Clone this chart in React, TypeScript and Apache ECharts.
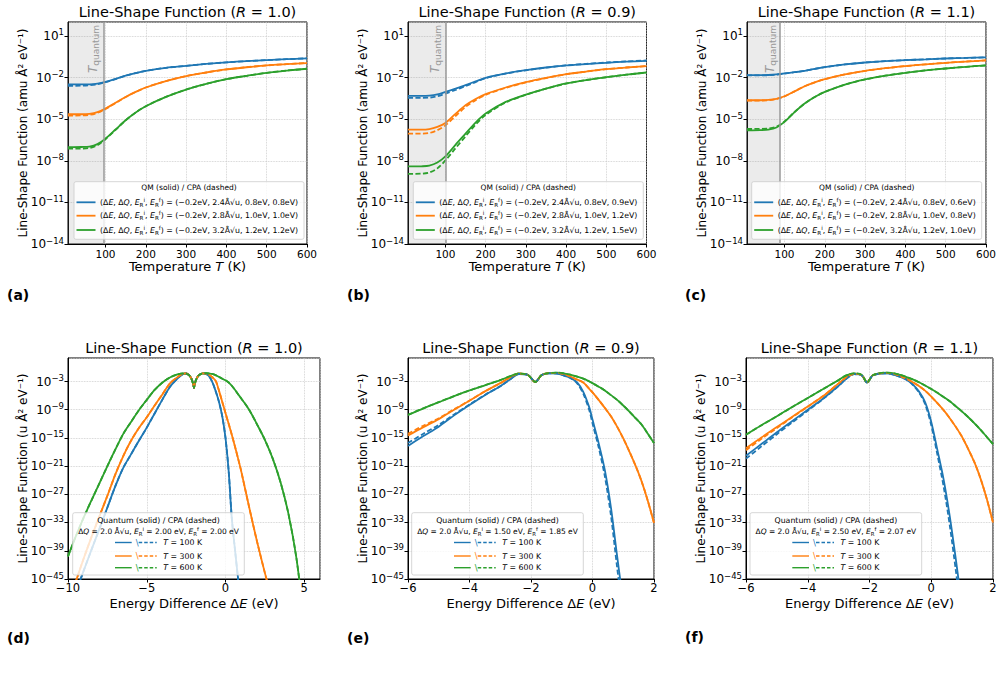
import React, { useEffect, useRef } from "react";
import * as echarts from "echarts";

const FONT = "DejaVu Sans";
const BLUE = "#1f77b4";
const ORANGE = "#ff7f0e";
const GREEN = "#2ca02c";
const COLORS = [BLUE, ORANGE, GREEN];

// ---------------- Top row (a)-(c): line-shape function vs temperature ----------------
// values below are log10 of the line-shape function (amu Å² eV⁻¹)
const temperatureK = [7, 20, 40, 60, 80, 100, 125, 150, 175, 200, 250, 300, 350, 400, 450, 500, 550, 600];
const topXMin = 7;
const topXMax = 600;
const topR = ["1.0", "0.9", "1.1"];
const topTQuantum = [96, 100, 89];
const topDeltaQ = ["2.4", "2.8", "3.2"];
const topERi = ["0.8", "1.0", "1.2"];
const aERf = ["0.8", "1.0", "1.2"];
const bERf = ["0.9", "1.2", "1.5"];
const cERf = ["0.6", "0.8", "1.0"];

const aBlueQM = [-2.5, -2.5, -2.5, -2.49, -2.44, -2.32, -2.1, -1.87, -1.68, -1.52, -1.3, -1.16, -1.02, -0.91, -0.82, -0.75, -0.68, -0.62];
const aBlueCPA = [-2.6, -2.6, -2.59, -2.56, -2.48, -2.34, -2.11, -1.87, -1.68, -1.52, -1.3, -1.16, -1.02, -0.91, -0.82, -0.75, -0.68, -0.62];
const aOrangeQM = [-4.65, -4.65, -4.65, -4.62, -4.5, -4.24, -3.82, -3.4, -3.04, -2.72, -2.26, -1.9, -1.64, -1.42, -1.26, -1.13, -1.04, -0.96];
const aOrangeCPA = [-4.74, -4.74, -4.73, -4.69, -4.55, -4.27, -3.84, -3.41, -3.04, -2.72, -2.26, -1.9, -1.64, -1.42, -1.26, -1.13, -1.04, -0.96];
const aGreenQM = [-7.02, -7.02, -7.01, -6.98, -6.8, -6.41, -5.75, -5.08, -4.52, -4.07, -3.4, -2.87, -2.46, -2.12, -1.88, -1.66, -1.5, -1.37];
const aGreenCPA = [-7.13, -7.13, -7.12, -7.08, -6.88, -6.45, -5.77, -5.09, -4.52, -4.07, -3.4, -2.87, -2.46, -2.12, -1.88, -1.66, -1.5, -1.37];

const bBlueQM = [-3.33, -3.33, -3.33, -3.31, -3.22, -3.04, -2.8, -2.55, -2.28, -2.02, -1.7, -1.47, -1.28, -1.13, -1.03, -0.94, -0.86, -0.8];
const bBlueCPA = [-3.47, -3.47, -3.47, -3.45, -3.35, -3.16, -2.9, -2.62, -2.33, -2.05, -1.72, -1.48, -1.29, -1.13, -1.02, -0.92, -0.84, -0.77];
const bOrangeQM = [-5.76, -5.76, -5.76, -5.72, -5.56, -5.28, -4.62, -4.0, -3.55, -3.2, -2.72, -2.34, -2.03, -1.76, -1.57, -1.4, -1.28, -1.18];
const bOrangeCPA = [-6.05, -6.05, -6.05, -6.0, -5.8, -5.45, -4.78, -4.12, -3.63, -3.25, -2.75, -2.36, -2.04, -1.77, -1.57, -1.4, -1.28, -1.18];
const bGreenQM = [-8.41, -8.41, -8.4, -8.35, -8.13, -7.69, -6.85, -6.05, -5.25, -4.6, -3.76, -3.23, -2.8, -2.43, -2.18, -1.98, -1.8, -1.64];
const bGreenCPA = [-8.94, -8.94, -8.93, -8.85, -8.55, -7.98, -7.1, -6.24, -5.4, -4.7, -3.8, -3.25, -2.81, -2.44, -2.18, -1.98, -1.8, -1.64];

const cBlueQM = [-1.83, -1.83, -1.83, -1.82, -1.78, -1.71, -1.62, -1.52, -1.38, -1.25, -1.06, -0.92, -0.82, -0.75, -0.69, -0.63, -0.59, -0.55];
const cBlueCPA = [-1.85, -1.85, -1.85, -1.84, -1.79, -1.72, -1.62, -1.52, -1.38, -1.25, -1.06, -0.92, -0.82, -0.75, -0.69, -0.63, -0.59, -0.55];
const cOrangeQM = [-3.64, -3.64, -3.64, -3.62, -3.54, -3.35, -3.0, -2.63, -2.35, -2.12, -1.78, -1.52, -1.33, -1.18, -1.05, -0.94, -0.85, -0.77];
const cOrangeCPA = [-3.66, -3.66, -3.66, -3.64, -3.55, -3.36, -3.0, -2.63, -2.35, -2.12, -1.78, -1.52, -1.33, -1.18, -1.05, -0.94, -0.85, -0.77];
const cGreenQM = [-5.81, -5.81, -5.8, -5.76, -5.6, -5.2, -4.5, -3.88, -3.41, -3.04, -2.51, -2.14, -1.87, -1.66, -1.49, -1.35, -1.23, -1.13];
const cGreenCPA = [-5.71, -5.71, -5.7, -5.67, -5.54, -5.17, -4.49, -3.88, -3.41, -3.04, -2.51, -2.14, -1.87, -1.66, -1.49, -1.35, -1.23, -1.13];

// ---------------- Bottom row (d)-(f): line-shape function vs energy difference ----------------
// values below are log10 of the line-shape function (u Å² eV⁻¹)
const bottomR = ["1.0", "0.9", "1.1"];
const bottomERi = ["2.00", "1.50", "2.50"];
const bottomERf = ["2.00", "1.85", "2.07"];
const bottomTemps = [100, 300, 600];

const dX = [-10, -9.5, -9, -8.5, -8, -7.5, -7, -6.5, -6, -5.5, -5, -4.5, -4, -3.5, -3, -2.7, -2.5, -2.3, -2.15, -2.05, -2, -1.95, -1.85, -1.7, -1.45, -1.2, -1, -0.8, -0.6, -0.4, -0.2, 0, 0.2, 0.4, 0.6, 0.8, 1, 1.5, 2, 2.5, 3, 3.5, 4, 4.5, 5, 5.5, 6];
const dBlue = [-52.5, -47.8, -43.2, -38.7, -34.3, -29.8, -25.3, -21.4, -18.5, -15.6, -12.8, -9.8, -6.8, -4.0, -2.2, -1.45, -1.3, -1.7, -2.5, -3.6, -4.4, -3.5, -2.5, -1.7, -1.27, -1.45, -2.1, -3.4, -5.3, -7.5, -10.5, -15, -22, -32.1, -38.7, -45, -51, null, null, null, null, null, null, null, null, null, null];
const dOrange = [-50.5, -45.5, -40.6, -36.0, -31.6, -27.3, -22.8, -18.9, -15.6, -12.9, -10.6, -8.1, -5.7, -3.3, -1.95, -1.35, -1.28, -1.7, -2.5, -3.6, -4.4, -3.5, -2.5, -1.7, -1.25, -1.35, -1.65, -2.2, -3.0, -5.1, -7.4, -9.7, -12.0, -14.3, -16.8, -19.4, -22.1, -29.7, -37.0, -43.7, -50, null, null, null, null, null, null];
const dGreen = [-40.2, -35.9, -31.9, -28.2, -24.6, -21.0, -17.5, -14.2, -11.6, -9.1, -6.9, -4.8, -3.2, -2.1, -1.45, -1.25, -1.3, -1.7, -2.5, -3.6, -4.4, -3.5, -2.5, -1.7, -1.28, -1.24, -1.3, -1.45, -1.7, -2.05, -2.4, -2.75, -3.2, -3.9, -4.75, -5.7, -6.6, -9.0, -12.1, -15.4, -19.4, -24.5, -31.2, -40.5, -54, null, null];

const eX = [-6, -5.5, -5, -4.5, -4, -3.5, -3, -2.65, -2.4, -2.1, -1.86, -1.65, -1.4, -1.15, -0.9, -0.7, -0.5, -0.3, -0.1, 0, 0.2, 0.4, 0.6, 0.8, 1.0, 1.2, 1.4, 1.6, 1.8, 2.0];
const eBlue = [-16.7, -14.6, -12.6, -10.2, -8.0, -5.9, -4.0, -2.4, -1.4, -1.6, -3.1, -1.6, -1.25, -1.3, -1.8, -2.3, -3.2, -5.2, -8.6, -11.1, -16.1, -21.8, -29.8, -40.1, -50, null, null, null, null, null];
const eBlueCPA = [-16.1, -14.1, -12.2, -10.0, -7.9, -5.85, -4.0, -2.4, -1.4, -1.6, -3.1, -1.6, -1.25, -1.3, -1.8, -2.35, -3.4, -5.6, -9.2, -11.9, -17.0, -23.1, -31.5, -42.5, -53, null, null, null, null, null];
const eOrange = [-14.5, -12.7, -11.0, -9.0, -7.1, -5.1, -3.35, -2.0, -1.3, -1.6, -3.1, -1.6, -1.2, -1.15, -1.5, -2.0, -2.6, -3.2, -4.6, -5.3, -6.9, -8.6, -10.4, -12.6, -15.1, -17.9, -20.9, -24.3, -28.4, -33.1];
const eOrangeCPA = [-14.1, -12.4, -10.8, -8.9, -7.05, -5.1, -3.35, -2.0, -1.3, -1.6, -3.1, -1.6, -1.2, -1.15, -1.5, -2.0, -2.6, -3.2, -4.6, -5.3, -6.9, -8.6, -10.4, -12.6, -15.1, -17.9, -20.9, -24.3, -28.4, -33.1];
const eGreen = [-10.1, -8.7, -7.4, -6.1, -4.9, -3.8, -2.7, -1.8, -1.3, -1.6, -3.1, -1.6, -1.2, -1.1, -1.3, -1.6, -1.95, -2.4, -3.0, -3.35, -4.1, -4.9, -5.9, -6.9, -8.1, -9.4, -10.8, -12.2, -14.1, -16.1];

const fX = [-6, -5.5, -5, -4.5, -4, -3.5, -3, -2.75, -2.5, -2.25, -2.08, -1.9, -1.7, -1.45, -1.2, -1.0, -0.8, -0.6, -0.4, -0.2, 0, 0.2, 0.4, 0.6, 0.8, 1.0, 1.2, 1.4, 1.6, 1.8, 2.0];
const fBlue = [-18.8, -16.3, -13.8, -11.4, -9.0, -6.6, -3.9, -2.4, -1.45, -1.7, -3.2, -1.75, -1.35, -1.25, -1.6, -2.0, -2.6, -3.6, -5.1, -7.4, -11.6, -17.6, -23.8, -31.7, -41.0, -51, null, null, null, null, null];
const fBlueCPA = [-19.4, -16.8, -14.2, -11.7, -9.2, -6.7, -3.95, -2.4, -1.45, -1.7, -3.2, -1.75, -1.35, -1.25, -1.6, -2.0, -2.6, -3.7, -5.3, -7.8, -12.3, -18.6, -25.3, -33.6, -43.4, -54, null, null, null, null, null];
const fOrange = [-17.2, -14.9, -12.7, -10.5, -8.3, -6.1, -3.4, -2.1, -1.35, -1.65, -3.2, -1.7, -1.3, -1.15, -1.4, -1.85, -2.45, -3.15, -3.95, -4.95, -6.2, -7.6, -9.1, -10.8, -12.7, -14.8, -17.4, -20.2, -23.7, -28.0, -33.0];
const fOrangeCPA = [-17.6, -15.2, -12.9, -10.6, -8.35, -6.1, -3.4, -2.1, -1.35, -1.65, -3.2, -1.7, -1.3, -1.15, -1.4, -1.85, -2.45, -3.15, -3.95, -4.95, -6.2, -7.6, -9.1, -10.8, -12.7, -14.8, -17.4, -20.2, -23.7, -28.0, -33.0];
const fGreen = [-14.3, -12.3, -10.4, -8.4, -6.5, -4.6, -2.7, -1.7, -1.25, -1.6, -3.2, -1.7, -1.25, -1.1, -1.25, -1.6, -2.05, -2.55, -3.15, -3.85, -4.6, -5.4, -6.3, -7.2, -8.3, -9.4, -10.6, -11.9, -13.3, -14.8, -16.3];

// ---------------- layout ----------------
const GRID_RECTS = [
  [68, 22, 239, 222],
  [408, 22, 238.5, 222],
  [747, 22, 239, 222],
  [68, 358, 252, 221],
  [408, 358, 246, 221],
  [746, 358, 247, 221],
];
const TOP_LEGEND_BOX = [
  [74, 181.7, 230, 57.6],
  [413.3, 181.7, 230, 57.6],
  [751.7, 181.7, 230, 57.6],
];
const BOTTOM_LEGEND_BOX = [
  [72.7, 512.7, 171.6, 62.3],
  [411.7, 512.7, 171.6, 62.3],
  [750, 512.7, 171.7, 62.3],
];
const PANEL_LABELS = [
  ["(a)", 7, 295],
  ["(b)", 347, 295],
  ["(c)", 685, 295],
  ["(d)", 7, 638],
  ["(e)", 347, 638],
  ["(f)", 685, 637],
];

const TOP_SHIFT = -1; // axis value = log10 + TOP_SHIFT
const BOT_SHIFT = 3;
const LW = 1.8;

function minusStr(v: number): string {
  const r = Math.round(v * 1000) / 1000;
  return r < 0 ? "\u2212" + Math.abs(r) : String(r);
}

function pairs(xs: number[], ys: (number | null)[], shift: number) {
  const out: number[][] = [];
  xs.forEach((x, i) => {
    const y = ys[i];
    if (y !== null && y !== undefined) out.push([x, y + shift]);
  });
  return out;
}

function richText(size: number, color = "#000", lh?: number) {
  const base: any = { fontFamily: FONT, fontSize: size, color, fill: color };
  if (lh) base.lineHeight = lh;
  const small = Math.round(size * 0.72 * 10) / 10;
  return {
    n: { ...base },
    i: { ...base, fontStyle: "italic" },
    sb: { ...base, fontSize: small, verticalAlign: "bottom" },
    sp: { ...base, fontSize: small, verticalAlign: "top" },
  };
}

function topLegendLine(dq: string, ei: string, ef: string) {
  return `{n|(Δ}{i|E}{n|, Δ}{i|Q}{n|, }{i|E}{sb|R}{sp|i}{n|, }{i|E}{sb|R}{sp|f}{n|) = (\u22120.2eV, ${dq}Å√u, ${ei}eV, ${ef}eV)}`;
}

function buildOption() {
  const grid: any[] = GRID_RECTS.map(([l, t, w, h]) => ({
    left: l,
    top: t,
    width: w,
    height: h,
    show: true,
    borderColor: "#000",
    borderWidth: 1,
    backgroundColor: "rgba(0,0,0,0)",
    containLabel: false,
    outerBoundsMode: "none",
  }));

  const axisLineStyle = { show: true, onZero: false, lineStyle: { color: "#000", width: 1 } };
  const tickStyle = { show: true, length: 3.5, inside: false, lineStyle: { color: "#000", width: 1 } };
  const splitStyle = { show: true, lineStyle: { color: "#c8c8c8", type: "dotted", width: 0.8 } };
  const expRich = {
    b: { fontFamily: FONT, fontSize: 12, color: "#000", lineHeight: 16, verticalAlign: "middle" },
    s: { fontFamily: FONT, fontSize: 8.5, color: "#000", lineHeight: 16, verticalAlign: "top" },
  };

  const xAxis: any[] = [];
  const yAxis: any[] = [];
  for (let i = 0; i < 3; i++) {
    xAxis.push({
      type: "value",
      gridIndex: i,
      min: topXMin,
      max: topXMax,
      splitNumber: 5,
      name: "{n|Temperature }{i|T}{n| (K)}",
      nameLocation: "middle",
      nameGap: 16,
      nameMoveOverlap: false,
      nameTextStyle: { fontFamily: FONT, fontSize: 13, color: "#000", rich: richText(13) },
      axisLine: axisLineStyle,
      axisTick: tickStyle,
      axisLabel: { show: true, fontFamily: FONT, fontSize: 10.5, color: "#000", margin: 4, showMinLabel: false, showMaxLabel: true, formatter: (v: number) => minusStr(v) },
      splitLine: splitStyle,
    });
    yAxis.push({
      type: "value",
      gridIndex: i,
      min: -15,
      max: 1,
      interval: 3,
      name: "Line-Shape Function (amu Å² eV⁻¹)",
      nameLocation: "middle",
      nameGap: 39.5,
      nameRotate: 90,
      nameMoveOverlap: false,
      nameTextStyle: { fontFamily: FONT, fontSize: 12, color: "#000" },
      axisLine: axisLineStyle,
      axisTick: tickStyle,
      axisLabel: {
        show: true,
        margin: 4,
        showMinLabel: true,
        showMaxLabel: false,
        formatter: (v: number) => `{b|10}{s|${minusStr(Math.round(v - TOP_SHIFT))}}`,
        rich: expRich,
      },
      splitLine: splitStyle,
    });
  }
  const botXMin = [-10, -6, -6];
  const botXMax = [6, 2, 2];
  const botXInt = [5, 2, 2];
  for (let j = 0; j < 3; j++) {
    const gi = 3 + j;
    xAxis.push({
      type: "value",
      gridIndex: gi,
      min: botXMin[j],
      max: botXMax[j],
      interval: botXInt[j],
      name: "{n|Energy Difference Δ}{i|E}{n| (eV)}",
      nameLocation: "middle",
      nameGap: 17.5,
      nameMoveOverlap: false,
      nameTextStyle: { fontFamily: FONT, fontSize: 13, color: "#000", rich: richText(13) },
      axisLine: axisLineStyle,
      axisTick: tickStyle,
      axisLabel: { show: true, fontFamily: FONT, fontSize: 11.5, color: "#000", margin: 3, showMinLabel: true, showMaxLabel: j !== 0, formatter: (v: number) => minusStr(v) },
      splitLine: splitStyle,
    });
    yAxis.push({
      type: "value",
      gridIndex: gi,
      min: -42,
      max: 5,
      interval: 6,
      name: "Line-Shape Function (u Å² eV⁻¹)",
      nameLocation: "middle",
      nameGap: 39.5,
      nameRotate: 90,
      nameMoveOverlap: false,
      nameTextStyle: { fontFamily: FONT, fontSize: 12, color: "#000" },
      axisLine: axisLineStyle,
      axisTick: tickStyle,
      axisLabel: {
        show: true,
        margin: 4,
        showMinLabel: true,
        showMaxLabel: false,
        formatter: (v: number) => `{b|10}{s|${minusStr(Math.round(v - BOT_SHIFT))}}`,
        rich: expRich,
      },
      splitLine: splitStyle,
    });
  }

  const series: any[] = [];
  const topQM = [
    [aBlueQM, aOrangeQM, aGreenQM],
    [bBlueQM, bOrangeQM, bGreenQM],
    [cBlueQM, cOrangeQM, cGreenQM],
  ];
  const topCPA = [
    [aBlueCPA, aOrangeCPA, aGreenCPA],
    [bBlueCPA, bOrangeCPA, bGreenCPA],
    [cBlueCPA, cOrangeCPA, cGreenCPA],
  ];
  const topERf = [aERf, bERf, cERf];
  const lineCommon = { type: "line", symbol: "none", showSymbol: false, smooth: 0.3, animation: false, silent: true, clip: true };

  for (let i = 0; i < 3; i++) {
    for (let k = 0; k < 3; k++) {
      const s: any = {
        ...lineCommon,
        name: `QM ${topR[i]} ${topDeltaQ[k]} ${topERf[i][k]}`,
        xAxisIndex: i,
        yAxisIndex: i,
        z: 3,
        data: pairs(temperatureK, topQM[i][k], TOP_SHIFT),
        lineStyle: { color: COLORS[k], width: LW },
        itemStyle: { color: COLORS[k] },
      };
      if (k === 0) {
        s.markArea = {
          silent: true,
          itemStyle: { color: "rgba(128,128,128,0.16)" },
          label: { show: false },
          data: [[{ xAxis: topXMin }, { xAxis: topTQuantum[i] }]],
        };
        s.markLine = {
          silent: true,
          symbol: ["none", "none"],
          animation: false,
          lineStyle: { color: "#999999", width: 1.5, type: "solid" },
          label: {
            show: true,
            position: "insideEndTop",
            distance: 3,
            formatter: "{t|T}{q|quantum}",
            color: "#999999",
            rich: {
              t: { fontFamily: FONT, fontSize: 12, fontStyle: "italic", color: "#999999", lineHeight: 15 },
              q: { fontFamily: FONT, fontSize: 9, color: "#999999", lineHeight: 15, verticalAlign: "bottom" },
            },
          },
          data: [{ xAxis: topTQuantum[i] }],
        };
      }
      series.push(s);
    }
    for (let k = 0; k < 3; k++) {
      series.push({
        ...lineCommon,
        name: `CPA ${topR[i]} ${topDeltaQ[k]} ${topERf[i][k]}`,
        xAxisIndex: i,
        yAxisIndex: i,
        z: 4,
        data: pairs(temperatureK, topCPA[i][k], TOP_SHIFT),
        lineStyle: { color: COLORS[k], width: LW, type: [5, 2.5] },
        itemStyle: { color: COLORS[k] },
      });
    }
  }

  const botX = [dX, eX, fX];
  const botQM = [
    [dBlue, dOrange, dGreen],
    [eBlue, eOrange, eGreen],
    [fBlue, fOrange, fGreen],
  ];
  const botCPA = [
    [dBlue, dOrange, dGreen],
    [eBlueCPA, eOrangeCPA, eGreen],
    [fBlueCPA, fOrangeCPA, fGreen],
  ];
  for (let j = 0; j < 3; j++) {
    const gi = 3 + j;
    for (let k = 0; k < 3; k++) {
      series.push({
        ...lineCommon,
        name: `Quantum R=${bottomR[j]} T=${bottomTemps[k]} K`,
        xAxisIndex: gi,
        yAxisIndex: gi,
        z: 3,
        data: pairs(botX[j], botQM[j][k], BOT_SHIFT),
        lineStyle: { color: COLORS[k], width: LW },
        itemStyle: { color: COLORS[k] },
      });
    }
    for (let k = 0; k < 3; k++) {
      series.push({
        ...lineCommon,
        name: `CPA R=${bottomR[j]} T=${bottomTemps[k]} K`,
        xAxisIndex: gi,
        yAxisIndex: gi,
        z: 4,
        data: pairs(botX[j], botCPA[j][k], BOT_SHIFT),
        lineStyle: { color: COLORS[k], width: LW, type: [5, 2.5] },
        itemStyle: { color: COLORS[k] },
      });
    }
  }

  const allR = [...topR, ...bottomR];
  const title = GRID_RECTS.map(([l, t, w], idx) => ({
    text: `{n|Line-Shape Function (}{i|R}{n| = ${allR[idx]})}`,
    left: l + w / 2,
    top: idx < 3 ? 4 : 340,
    textAlign: "center",
    padding: 0,
    textStyle: { fontFamily: FONT, fontSize: 14.5, fontWeight: "normal", color: "#000", rich: richText(14.5) },
  }));

  // ---- legends (drawn as graphics) ----
  const graphics: any[] = [];
  const legRichSmall = richText(7.8, "#000", 11);
  for (let i = 0; i < 3; i++) {
    const [x, y, w, h] = TOP_LEGEND_BOX[i];
    graphics.push({ type: "rect", z: 100, silent: true, shape: { x, y, width: w, height: h, r: 2 }, style: { fill: "rgba(255,255,255,0.8)", stroke: "#cccccc", lineWidth: 0.8 } });
    graphics.push({ type: "text", z: 101, silent: true, x: x + w / 2, y: y + 6.2, style: { text: "QM (solid) / CPA (dashed)", fontFamily: FONT, fontSize: 7.5, fill: "#000", textAlign: "center", textVerticalAlign: "middle" } });
    const rows = [20.6, 34, 48.3];
    for (let k = 0; k < 3; k++) {
      const yy = y + rows[k];
      graphics.push({ type: "line", z: 101, silent: true, shape: { x1: x + 2.5, y1: yy, x2: x + 21.5, y2: yy }, style: { stroke: COLORS[k], lineWidth: LW } });
      graphics.push({
        type: "text",
        z: 101,
        silent: true,
        x: x + 26,
        y: yy,
        style: { text: topLegendLine(topDeltaQ[k], topERi[k], topERf[i][k]), fontFamily: FONT, fontSize: 7.8, fill: "#000", textAlign: "left", textVerticalAlign: "middle", rich: legRichSmall },
      });
    }
  }
  const legRich = richText(7.5, "#000", 10.5);
  const legRichEntry = richText(7.8, "#000", 10.5);
  for (let j = 0; j < 3; j++) {
    const [x, y, w, h] = BOTTOM_LEGEND_BOX[j];
    graphics.push({ type: "rect", z: 100, silent: true, shape: { x, y, width: w, height: h, r: 2 }, style: { fill: "rgba(255,255,255,0.8)", stroke: "#cccccc", lineWidth: 0.8 } });
    graphics.push({ type: "text", z: 101, silent: true, x: x + w / 2, y: y + 7.5, style: { text: "Quantum (solid) / CPA (dashed)", fontFamily: FONT, fontSize: 7.8, fill: "#000", textAlign: "center", textVerticalAlign: "middle" } });
    graphics.push({
      type: "text",
      z: 101,
      silent: true,
      x: x + w / 2,
      y: y + 18.6,
      style: {
        text: `{n|Δ}{i|Q}{n| = 2.0 Å√u, }{i|E}{sb|R}{sp|i}{n| = ${bottomERi[j]} eV, }{i|E}{sb|R}{sp|f}{n| = ${bottomERf[j]} eV}`,
        fontFamily: FONT,
        fontSize: 7.5,
        fill: "#000",
        textAlign: "center",
        textVerticalAlign: "middle",
        rich: legRich,
      },
    });
    const rows = [29.8, 43.3, 55];
    for (let k = 0; k < 3; k++) {
      const yy = y + rows[k];
      graphics.push({ type: "line", z: 101, silent: true, shape: { x1: x + 42.3, y1: yy, x2: x + 59, y2: yy }, style: { stroke: COLORS[k], lineWidth: 1.4 } });
      graphics.push({ type: "text", z: 101, silent: true, x: x + 64.5, y: yy, style: { text: "\\", fontFamily: FONT, fontSize: 8.5, fill: COLORS[k], textAlign: "center", textVerticalAlign: "middle" } });
      graphics.push({ type: "line", z: 101, silent: true, shape: { x1: x + 66, y1: yy, x2: x + 84, y2: yy }, style: { stroke: COLORS[k], lineWidth: 1.4, lineDash: [3.5, 2] } });
      graphics.push({
        type: "text",
        z: 101,
        silent: true,
        x: x + 90.6,
        y: yy,
        style: { text: `{i|T}{n| = ${bottomTemps[k]} K}`, fontFamily: FONT, fontSize: 7.8, fill: "#000", textAlign: "left", textVerticalAlign: "middle", rich: legRichEntry },
      });
    }
  }
  PANEL_LABELS.forEach(([t, x, y]) => {
    graphics.push({ type: "text", z: 101, silent: true, x: x as number, y: y as number, style: { text: t as string, fontFamily: FONT, fontSize: 14, fontWeight: "bold", fill: "#000", textAlign: "left", textVerticalAlign: "middle" } });
  });

  return {
    animation: false,
    backgroundColor: "#ffffff",
    textStyle: { fontFamily: FONT, color: "#000" },
    title,
    grid,
    xAxis,
    yAxis,
    series,
    graphic: { elements: graphics },
  };
}

export default function App() {
  const ref = useRef<HTMLDivElement>(null);
  useEffect(() => {
    if (!ref.current) return;
    const chart = echarts.init(ref.current, undefined, { renderer: "svg" });
    chart.setOption(buildOption() as any);
    return () => {
      chart.dispose();
    };
  }, []);
  return (
    <div
      ref={ref}
      style={{ position: "fixed", left: 0, top: 0, width: 1003, height: 674, background: "#fff" }}
    />
  );
}
